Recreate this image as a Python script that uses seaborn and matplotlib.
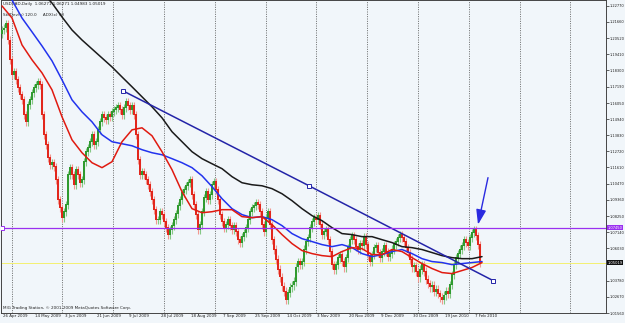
import numpy as np
import pandas as pd
import matplotlib
matplotlib.use("Agg")
import matplotlib.pyplot as plt
import matplotlib.transforms as mtransforms
import seaborn as sns

# daily closes, USDCAD, late Apr 2009 .. Feb 2010
closes = [
    1.2109, 1.2123, 1.2151, 1.2040, 1.1903, 1.1799, 1.1820, 1.1765, 1.1710, 1.1661,
    1.1627, 1.1524, 1.1475, 1.1593, 1.1627, 1.1675, 1.1710, 1.1730, 1.1751, 1.1730,
    1.1524, 1.1386, 1.1317, 1.1227, 1.1179, 1.1193, 1.1165, 1.1076, 1.0938, 1.0883,
    1.0814, 1.0855, 1.0904, 1.1110, 1.1159, 1.1110, 1.1041, 1.1145, 1.1110, 1.1055,
    1.1076, 1.1200, 1.1269, 1.1296, 1.1338, 1.1386, 1.1317, 1.1338, 1.1420, 1.1475,
    1.1524, 1.1503, 1.1489, 1.1524, 1.1510, 1.1544, 1.1558, 1.1572, 1.1586, 1.1558,
    1.1524, 1.1572, 1.1613, 1.1586, 1.1558, 1.1586, 1.1524, 1.1386, 1.1214, 1.1110,
    1.1131, 1.1110, 1.1076, 1.1041, 1.0993, 1.0938, 1.0869, 1.0800, 1.0800, 1.0855,
    1.0835, 1.0786, 1.0745, 1.0697, 1.0731, 1.0759, 1.0800, 1.0841, 1.0897, 1.0938,
    1.0986, 1.1007, 1.1034, 1.1055, 1.1076, 1.0972, 1.0904, 1.0835, 1.0731, 1.0766,
    1.0855, 1.0952, 1.0993, 1.0938, 1.0972, 1.1041, 1.1062, 1.1007, 1.0938, 1.0835,
    1.0786, 1.0745, 1.0766, 1.0800, 1.0759, 1.0731, 1.0759, 1.0718, 1.0662, 1.0642,
    1.0683, 1.0711, 1.0745, 1.0800, 1.0855, 1.0883, 1.0897, 1.0917, 1.0904, 1.0855,
    1.0766, 1.0718, 1.0814, 1.0855, 1.0766, 1.0662, 1.0594, 1.0525, 1.0456, 1.0401,
    1.0339, 1.0304, 1.0249, 1.0297, 1.0332, 1.0346, 1.0373, 1.0470, 1.0511, 1.0490,
    1.0511, 1.0594, 1.0649, 1.0676, 1.0745, 1.0786, 1.0814, 1.0800, 1.0828, 1.0766,
    1.0697, 1.0718, 1.0731, 1.0662, 1.0580, 1.0490, 1.0456, 1.0490, 1.0538, 1.0559,
    1.0511, 1.0470, 1.0538, 1.0607, 1.0662, 1.0690, 1.0662, 1.0614, 1.0594, 1.0635,
    1.0621, 1.0683, 1.0628, 1.0552, 1.0511, 1.0559, 1.0607, 1.0621, 1.0573, 1.0538,
    1.0580, 1.0621, 1.0580, 1.0545, 1.0566, 1.0594, 1.0628, 1.0649, 1.0676, 1.0697,
    1.0676, 1.0649, 1.0607, 1.0573, 1.0525, 1.0470, 1.0483, 1.0442, 1.0401, 1.0456,
    1.0490, 1.0442, 1.0387, 1.0359, 1.0332, 1.0346, 1.0304, 1.0318, 1.0290, 1.0263,
    1.0249, 1.0277, 1.0304, 1.0290, 1.0352, 1.0421, 1.0490, 1.0538, 1.0566, 1.0594,
    1.0621, 1.0662, 1.0642, 1.0621, 1.0676, 1.0711, 1.0731, 1.0690, 1.0628, 1.0502,
]
first_open = 1.2080

# moving averages, sampled every 5 bars
ma_bars = list(range(0, 245, 5))
ma_red = [
    1.2275, 1.2192, 1.2006, 1.1903, 1.1813, 1.1696, 1.1510, 1.1351, 1.1262, 1.1193,
    1.1159, 1.1200, 1.1338, 1.1420, 1.1434, 1.1379, 1.1269, 1.1145, 1.0993, 1.0876,
    1.0848, 1.0855, 1.0869, 1.0869, 1.0821, 1.0814, 1.0821, 1.0766, 1.0697, 1.0635,
    1.0587, 1.0566, 1.0552, 1.0545, 1.0580, 1.0607, 1.0600, 1.0559, 1.0559, 1.0594,
    1.0580, 1.0538, 1.0497, 1.0463, 1.0435, 1.0428, 1.0449, 1.0470, 1.0504,
]
ma_blue = [
    1.2412, 1.2316, 1.2192, 1.2096, 1.1999, 1.1896, 1.1765, 1.1627, 1.1544, 1.1475,
    1.1386, 1.1338, 1.1324, 1.1310, 1.1283, 1.1262, 1.1248, 1.1221, 1.1193, 1.1159,
    1.1103, 1.1028, 1.0945, 1.0876, 1.0835, 1.0814, 1.0821, 1.0800, 1.0759, 1.0704,
    1.0669, 1.0649, 1.0628, 1.0614, 1.0628, 1.0607, 1.0566, 1.0545, 1.0559, 1.0580,
    1.0594, 1.0566, 1.0531, 1.0511, 1.0504, 1.0490, 1.0497, 1.0504, 1.0511,
]
ma_black = [
    1.2592, 1.2543, 1.2495, 1.2454, 1.2371, 1.2295, 1.2199, 1.2109, 1.2040, 1.1978,
    1.1916, 1.1854, 1.1785, 1.1717, 1.1648, 1.1579, 1.1503, 1.1407, 1.1338, 1.1269,
    1.1221, 1.1186, 1.1152, 1.1097, 1.1055, 1.1041, 1.1034, 1.1014, 1.0979, 1.0931,
    1.0876, 1.0828, 1.0793, 1.0745, 1.0704, 1.0697, 1.0683, 1.0683, 1.0662, 1.0642,
    1.0614, 1.0607, 1.0594, 1.0573, 1.0552, 1.0538, 1.0531, 1.0531, 1.0545,
]

# drawn objects
trend_bars = [60.5, 153.5, 245.5]
trend_prices = [1.1689, 1.1034, 1.0380]
hline_price = 1.0745
bid_price = 1.05019
arrow_from = (243, 1.1090)
arrow_to = (238, 1.0766)

# 1.04920 sits under the bid box in the original, so it is not listed
price_ticks = [1.22770, 1.21660, 1.20520, 1.19410, 1.18300, 1.17190, 1.16050,
               1.14940, 1.13830, 1.12720, 1.11610, 1.10470, 1.09360, 1.08250,
               1.07140, 1.06030, 1.03780, 1.02670, 1.01560]
date_bars = [0, 16, 31, 47, 63, 79, 94, 110, 126, 142, 157, 173, 189, 205, 221, 236]
date_labels = ["26 Apr 2009", "14 May 2009", "3 Jun 2009", "21 Jun 2009", "9 Jul 2009",
               "28 Jul 2009", "18 Aug 2009", "7 Sep 2009", "25 Sep 2009", "14 Oct 2009",
               "3 Nov 2009", "20 Nov 2009", "9 Dec 2009", "30 Dec 2009", "19 Jan 2010",
               "7 Feb 2010"]

sns.set_style("white")
plt.rcParams['font.family'] = ['DejaVu Sans']

bg = '#f1f6fa'
fig = plt.figure(figsize=(6.25, 3.23), dpi=100, facecolor=bg)
ax = fig.add_axes([1 / 625, 10 / 323, 605 / 625, 313 / 323], facecolor=bg)

close = np.array(closes)
opens = np.concatenate([[first_open], close[:-1]])
bars = np.arange(len(close))
up = close >= opens
wick = 0.0028
hi = np.maximum(opens, close) + wick
lo = np.minimum(opens, close) - wick
col = np.where(up, '#2f9a2f', '#e2261c')
wcol = np.where(up, '#86c886', '#f29890')

# vertical dotted grid
for k in range(12):
    ax.axvline(4.75 + 25.4 * k, color='#555555', lw=0.6, ls=(0, (1.2, 1.6)), zorder=0)

ax.vlines(bars, lo, hi, colors=wcol, lw=0.8, zorder=2)
ax.bar(bars, np.abs(close - opens) + 0.0003, bottom=np.minimum(opens, close),
       width=0.55, color=col, linewidth=0, zorder=3)

ma = pd.DataFrame({'bar': ma_bars, 'red': ma_red, 'blue': ma_blue, 'black': ma_black})
sns.lineplot(data=ma, x='bar', y='black', color='#1a1a1a', lw=1.1, ax=ax, zorder=4)
sns.lineplot(data=ma, x='bar', y='blue', color='#2233ee', lw=1.1, ax=ax, zorder=4)
sns.lineplot(data=ma, x='bar', y='red', color='#e01a10', lw=1.1, ax=ax, zorder=4)

# trend line
ax.plot(trend_bars, trend_prices, color='#2424a8', lw=1.1, zorder=5)
ax.plot(trend_bars, trend_prices, ls='none', marker='s', ms=2.6, mfc='white',
        mec='#2424a8', mew=0.7, zorder=6)

# horizontal lines
ax.axhline(hline_price, color='#9a30f0', lw=0.9, zorder=5)
ax.plot([0], [hline_price], marker='s', ms=2.4, mfc='white', mec='#9a30f0', mew=0.7, zorder=6)
ax.axhline(bid_price, color='#f4f070', lw=0.7, zorder=1)

ax.annotate('', xy=arrow_to, xytext=arrow_from,
            arrowprops=dict(arrowstyle='-|>,head_length=0.9,head_width=0.3',
                            color='#2a2ae0', lw=1.0, shrinkA=0, shrinkB=0), zorder=7)

ax.set_xlim(-0.5, 302)
ax.set_ylim(1.2316 - 0.000689 * 313, 1.2316)
ax.set_xlabel('')
ax.set_ylabel('')

ax.yaxis.tick_right()
ax.set_yticks(price_ticks)
ax.set_yticklabels([f'{p:.5f}' for p in price_ticks])
ax.tick_params(axis='y', length=2, width=0.5, pad=0.6, labelsize=2.6, colors='#222222')
ax.set_xticks(date_bars)
ax.set_xticklabels([])
ax.tick_params(axis='x', length=2, width=0.5, colors='#222222')
tr = mtransforms.blended_transform_factory(ax.transData, ax.transAxes)
for b, lab in zip(date_bars, date_labels):
    ax.text(b + 0.6, -0.004, lab, transform=tr, ha='left', va='top', fontsize=2.9,
            color='#222222')

for s in ax.spines.values():
    s.set_color('#444444')
    s.set_linewidth(0.7)

# price boxes on the axis
tr_y = mtransforms.blended_transform_factory(ax.transAxes, ax.transData)
ax.text(1.003, hline_price, f'{hline_price:.5f}', transform=tr_y, ha='left', va='center',
        fontsize=2.6, color='white',
        bbox=dict(facecolor='#9a30f0', edgecolor='none', pad=0.4))
ax.text(1.003, bid_price, f'{bid_price:.5f}', transform=tr_y, ha='left', va='center',
        fontsize=2.6, color='white',
        bbox=dict(facecolor='#111111', edgecolor='none', pad=0.4))

ax.text(0.004, 0.993, 'USDCAD,Daily  1.06271 1.06271 1.04983 1.05019',
        transform=ax.transAxes, ha='left', va='top', fontsize=3.0, color='#222222')
ax.text(0.004, 0.958, 'StdDev(x) 120.0     ADX(x) 90', transform=ax.transAxes,
        ha='left', va='top', fontsize=3.0, color='#222222')
ax.text(0.004, 0.008, 'MIG Trading Station, \u00a9 2001-2009 MetaQuotes Software Corp.',
        transform=ax.transAxes, ha='left', va='bottom', fontsize=3.0, color='#222222')

fig.savefig('out.png', dpi=100, facecolor=bg)
